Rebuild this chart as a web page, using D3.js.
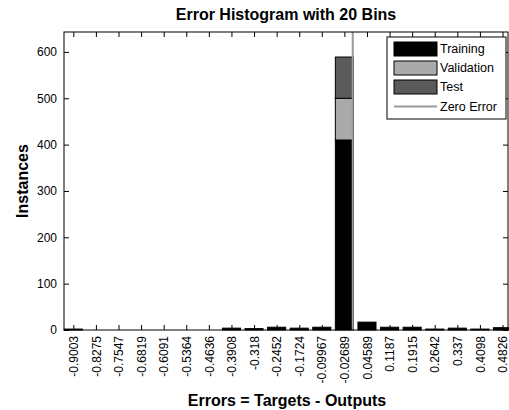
<!DOCTYPE html>
<html>
<head>
<meta charset="utf-8">
<script src="https://cdn.jsdelivr.net/npm/d3@7"></script>
<style>
  body { margin: 0; background: #fff; }
  svg { display: block; font-family: "Liberation Sans", Arial, sans-serif; }
</style>
</head>
<body>
<svg id="chart" width="509" height="410"></svg>
<script>
const binCenters = [-0.9003, -0.8275, -0.7547, -0.6819, -0.6091, -0.5364, -0.4636, -0.3908, -0.318, -0.2452,
  -0.1724, -0.09967, -0.02689, 0.04589, 0.1187, 0.1915, 0.2642, 0.337, 0.4098, 0.4826];
const binLabels = ["-0.9003", "-0.8275", "-0.7547", "-0.6819", "-0.6091", "-0.5364", "-0.4636", "-0.3908", "-0.318", "-0.2452",
  "-0.1724", "-0.09967", "-0.02689", "0.04589", "0.1187", "0.1915", "0.2642", "0.337", "0.4098", "0.4826"];
const training   = [2, 0, 0, 0, 0, 0, 0, 4, 3, 6, 4, 6, 410, 17, 6, 6, 2, 4, 2, 5];
const validation = [0, 0, 0, 0, 0, 0, 0, 0, 0, 0, 0, 0, 90, 0, 0, 0, 0, 0, 0, 0];
const test       = [0, 0, 0, 0, 0, 0, 0, 0, 0, 0, 0, 0, 89, 0, 0, 0, 0, 0, 0, 0];
const yTicks = [0, 100, 200, 300, 400, 500, 600];
const seriesNames = ["Training", "Validation", "Test"];
const seriesColors = ["#000000", "#aaaaaa", "#5a5a5a"];

const M = { left: 64, top: 32, right: 508, bottom: 330 };
const svg = d3.select("#chart");

const binWidth = (binCenters[binCenters.length - 1] - binCenters[0]) / (binCenters.length - 1);
const x = d3.scaleLinear()
  .domain([-0.9303, 0.5003])
  .range([M.left, M.right]);
const y = d3.scaleLinear()
  .domain([0, 643])
  .range([M.bottom, M.top]);

// stacked bars
const rows = binCenters.map((c, i) => ({ c, Training: training[i], Validation: validation[i], Test: test[i] }));
const stacked = d3.stack().keys(seriesNames)(rows);
const barW = x(binWidth * 0.8) - x(0);

stacked.forEach((layer, k) => {
  svg.append("g").selectAll("rect")
    .data(layer.filter(d => d[1] > d[0]))
    .join("rect")
    .attr("x", d => x(d.data.c) - barW / 2)
    .attr("y", d => y(d[1]))
    .attr("width", barW)
    .attr("height", d => y(d[0]) - y(d[1]))
    .attr("fill", seriesColors[k])
    .attr("stroke", "#000")
    .attr("stroke-width", 1);
});

// zero error line
svg.append("line")
  .attr("x1", x(0)).attr("x2", x(0))
  .attr("y1", M.top).attr("y2", M.bottom)
  .attr("stroke", "#9a9a9a").attr("stroke-width", 2);

// axes, ticks pointing inward
const xAxis = d3.axisBottom(x).tickValues(binCenters).tickSize(-5).tickFormat((d, i) => binLabels[i]);
const gx = svg.append("g").attr("transform", `translate(0,${M.bottom})`).call(xAxis);
gx.select(".domain").remove();
gx.selectAll("text")
  .attr("transform", "rotate(-90)")
  .attr("text-anchor", "end")
  .attr("x", -6).attr("y", 0).attr("dy", "0.35em")
  .style("font-size", "12px").attr("fill", "#000");

const gxTop = svg.append("g").attr("transform", `translate(0,${M.top})`)
  .call(d3.axisTop(x).tickValues(binCenters).tickSize(-5).tickFormat(""));
gxTop.select(".domain").remove();

const gy = svg.append("g").attr("transform", `translate(${M.left},0)`)
  .call(d3.axisLeft(y).tickValues(yTicks).tickSize(-5));
gy.select(".domain").remove();
gy.selectAll("text").attr("x", -7).style("font-size", "12px").attr("fill", "#000");

const gyR = svg.append("g").attr("transform", `translate(${M.right},0)`)
  .call(d3.axisRight(y).tickValues(yTicks).tickSize(-5).tickFormat(""));
gyR.select(".domain").remove();

svg.selectAll(".tick line").attr("stroke", "#000");

svg.append("rect")
  .attr("x", M.left).attr("y", M.top)
  .attr("width", M.right - M.left).attr("height", M.bottom - M.top)
  .attr("fill", "none").attr("stroke", "#000").attr("stroke-width", 1);

// titles
svg.append("text").text("Error Histogram with 20 Bins")
  .attr("x", 286).attr("y", 20)
  .attr("text-anchor", "middle").style("font-size", "16px").style("font-weight", "bold");
svg.append("text").text("Errors = Targets - Outputs")
  .attr("x", 287).attr("y", 406)
  .attr("text-anchor", "middle").style("font-size", "16px").style("font-weight", "bold");
svg.append("text").text("Instances")
  .attr("transform", `translate(28,${(M.top + M.bottom) / 2}) rotate(-90)`)
  .attr("text-anchor", "middle").style("font-size", "16px").style("font-weight", "bold");

// legend
const lg = svg.append("g").attr("transform", "translate(387,37)");
lg.append("rect").attr("width", 119).attr("height", 82)
  .attr("fill", "#fff").attr("stroke", "#000");
seriesNames.forEach((name, i) => {
  lg.append("rect")
    .attr("x", 7).attr("y", 5 + i * 19).attr("width", 43).attr("height", 14)
    .attr("fill", seriesColors[i]).attr("stroke", "#000");
  lg.append("text").text(name)
    .attr("x", 53).attr("y", 12 + i * 19).attr("dy", "0.35em")
    .style("font-size", "12.5px");
});
lg.append("line").attr("x1", 7).attr("x2", 50).attr("y1", 69.5).attr("y2", 69.5)
  .attr("stroke", "#9a9a9a").attr("stroke-width", 2);
lg.append("text").text("Zero Error")
  .attr("x", 53).attr("y", 69.5).attr("dy", "0.35em").style("font-size", "12.5px");
</script>
</body>
</html>
